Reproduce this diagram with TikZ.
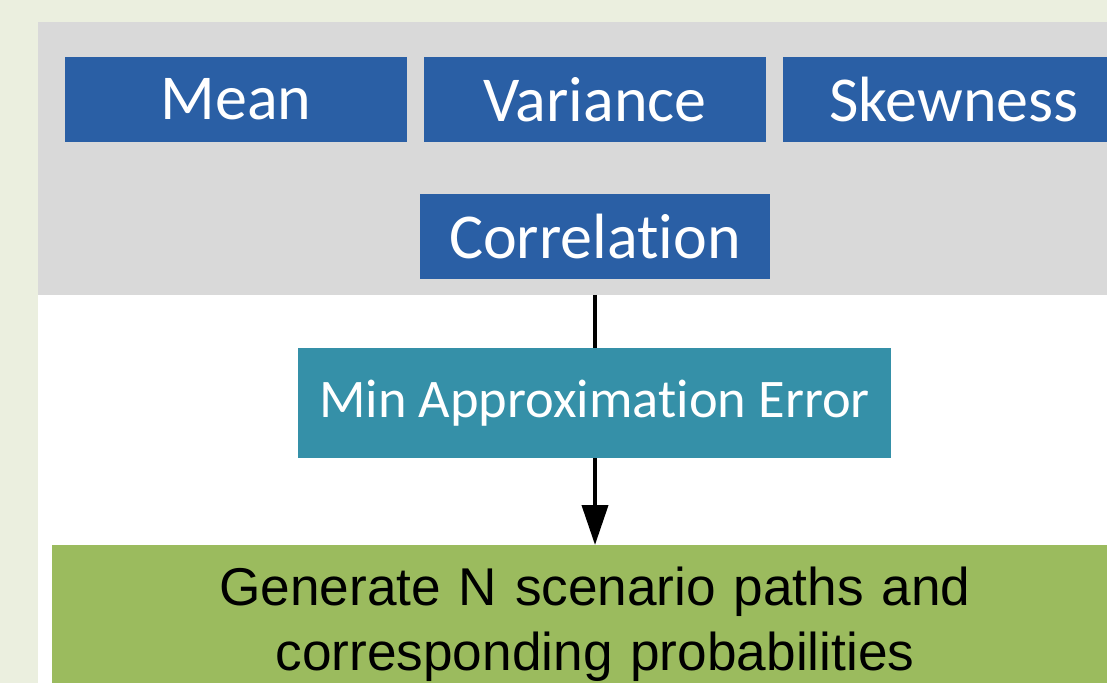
\documentclass[tikz,border=0pt]{standalone}
\usepackage{fontspec}
\setmainfont{Liberation Sans}
\newfontfamily\carlito[Ligatures={NoCommon}]{Carlito}
\usepackage{xcolor}
\usetikzlibrary{arrows.meta, calc, positioning}
\definecolor{pagebg}{HTML}{EBEFDF}
\definecolor{panelgray}{HTML}{D9D9D9}
\definecolor{momblue}{HTML}{2A5FA5}
\definecolor{approxteal}{HTML}{3590A8}
\definecolor{scengreen}{HTML}{9BBB5E}

\begin{document}
\begin{tikzpicture}[x=0.5pt, y=-0.5pt,
      mom/.style={fill=momblue, text=white, inner sep=0pt, align=center,
                  minimum width=171pt, minimum height=42.5pt,
                  font=\carlito\fontsize{32}{38}\selectfont},
      approx/.style={fill=approxteal, text=white, inner sep=0pt, align=center,
                  minimum width=296.5pt, minimum height=55pt,
                  font=\carlito\fontsize{27.2}{32}\selectfont},
      scen/.style={fill=scengreen, text=black, anchor=north, align=center,
                  inner xsep=0pt, inner ysep=11pt, text width=543pt,
                  font=\fontsize{26.6}{32.5}\selectfont},
      arr/.style={line width=2pt, black}]
    \clip (0,0) rectangle (1107,683);
    \fill[pagebg] (0,0) rectangle (1107,683);
    \fill[white] (38,22) rectangle (1107,683);
    \fill[panelgray] (38,22) rectangle (1107,295);
    \coordinate (panelbot) at (595,295);
    \node[mom] (mean) at (236,99.5) {Mean};
    \node[mom] (variance) at (595,99.5) {Variance};
    \node[mom] (skew) at (954,99.5) {Skewness};
    \node[mom, minimum width=175pt] (corr) at (595,236.5) {Correlation};
    \node[approx] (minerr) at (594.5,403) {Min Approximation Error};
    \node[scen] (paths) at (595,545) {Generate N scenario paths and\\corresponding probabilities};
    \draw[arr] (panelbot) -- (minerr.north -| panelbot);
    \draw[arr, -{Triangle[width=13pt, length=20pt]}] (minerr.south -| panelbot) -- (paths.north -| panelbot);
  \end{tikzpicture}
\end{document}
